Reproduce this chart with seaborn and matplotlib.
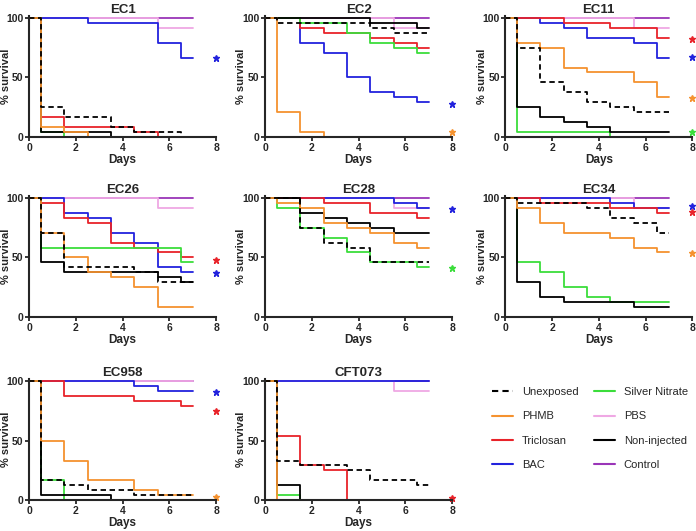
import matplotlib
matplotlib.use('Agg')
import matplotlib.pyplot as plt
from matplotlib.lines import Line2D
import seaborn as sns
import pandas as pd

sns.set_style('ticks')
plt.rcParams['font.family'] = ['Liberation Sans', 'DejaVu Sans']

# step start days; each survival list holds the value for the step beginning at that day
days = [0, 0.5, 1.5, 2.5, 3.5, 4.5, 5.5, 6.5]
end_day = 7

series = ['Control', 'PBS', 'BAC', 'Triclosan', 'Silver Nitrate', 'Non-injected', 'PHMB', 'Unexposed']
colors = {'Unexposed': 'black', 'PHMB': '#F5922F', 'Triclosan': '#E8232A', 'BAC': '#2222DD',
          'Silver Nitrate': '#3BDD3B', 'PBS': '#EFA8E4', 'Non-injected': 'black', 'Control': '#9A35B8'}

ec1 = {
    'Control':        [100, 100, 100, 100, 100, 100, 100, 100],
    'PBS':            [100, 100, 100, 100, 100, 100, 91.7, 91.7],
    'BAC':            [100, 100, 100, 95.8, 95.8, 95.8, 79.2, 66.7],
    'Triclosan':      [100, 16.7, 8.3, 8.3, 8.3, 4.2, 0, 0],
    'Silver Nitrate': [100, 4.2, 0, 0, 0, 0, 0, 0],
    'Non-injected':   [100, 4.2, 4.2, 4.2, 0, 0, 0, 0],
    'PHMB':           [100, 8.3, 4.2, 0, 0, 0, 0, 0],
    'Unexposed':      [100, 25, 16.7, 16.7, 8.3, 4.2, 4.2, 0],
}
ec2 = {
    'Control':        [100, 100, 100, 100, 100, 100, 100, 100],
    'PBS':            [100, 100, 100, 100, 100, 100, 91.7, 91.7],
    'BAC':            [100, 100, 79.2, 70.8, 50, 37.5, 33.3, 29.2],
    'Triclosan':      [100, 100, 91.7, 87.5, 87.5, 83.3, 79.2, 75],
    'Silver Nitrate': [100, 100, 95.8, 95.8, 87.5, 79.2, 75, 70.8],
    'Non-injected':   [100, 100, 100, 100, 100, 95.8, 95.8, 91.7],
    'PHMB':           [100, 20.8, 4.2, 0, 0, 0, 0, 0],
    'Unexposed':      [100, 95.8, 95.8, 95.8, 95.8, 91.7, 87.5, 87.5],
}
ec11 = {
    'Control':        [100, 100, 100, 100, 100, 100, 100, 100],
    'PBS':            [100, 100, 100, 100, 100, 100, 91.7, 91.7],
    'BAC':            [100, 100, 95.8, 91.7, 83.3, 83.3, 79.2, 66.7],
    'Triclosan':      [100, 100, 100, 95.8, 95.8, 91.7, 91.7, 83.3],
    'Silver Nitrate': [100, 4.2, 4.2, 4.2, 4.2, 0, 0, 0],
    'Non-injected':   [100, 25, 16.7, 12.5, 8.3, 4.2, 4.2, 4.2],
    'PHMB':           [100, 79.2, 75, 58.3, 54.2, 54.2, 45.8, 33.3],
    'Unexposed':      [100, 75, 45.8, 37.5, 29.2, 25, 20.8, 20.8],
}
ec26 = {
    'Control':        [100, 100, 100, 100, 100, 100, 100, 100],
    'PBS':            [100, 100, 100, 100, 100, 100, 91.7, 91.7],
    'BAC':            [100, 100, 87.5, 83.3, 70.8, 62.5, 41.7, 37.5],
    'Triclosan':      [100, 95.8, 83.3, 79.2, 62.5, 58.3, 54.2, 50],
    'Silver Nitrate': [100, 58.3, 58.3, 58.3, 58.3, 58.3, 58.3, 45.8],
    'Non-injected':   [100, 45.8, 37.5, 37.5, 37.5, 37.5, 33.3, 29.2],
    'PHMB':           [100, 70.8, 50, 37.5, 33.3, 25, 8.3, 8.3],
    'Unexposed':      [100, 70.8, 41.7, 41.7, 41.7, 37.5, 29.2, 29.2],
}
ec28 = {
    'Control':        [100, 100, 100, 100, 100, 100, 100, 100],
    'PBS':            [100, 100, 100, 100, 100, 100, 91.7, 91.7],
    'BAC':            [100, 100, 100, 100, 100, 100, 95.8, 91.7],
    'Triclosan':      [100, 100, 100, 95.8, 95.8, 87.5, 87.5, 83.3],
    'Silver Nitrate': [100, 91.7, 75, 66.7, 54.2, 45.8, 45.8, 41.7],
    'Non-injected':   [100, 100, 87.5, 83.3, 79.2, 75, 70.8, 70.8],
    'PHMB':           [100, 95.8, 91.7, 79.2, 75, 70.8, 62.5, 58.3],
    'Unexposed':      [100, 100, 75, 62.5, 58.3, 45.8, 45.8, 45.8],
}
ec34 = {
    'Control':        [100, 100, 100, 100, 100, 100, 100, 100],
    'PBS':            [100, 100, 100, 100, 100, 100, 91.7, 91.7],
    'BAC':            [100, 100, 100, 100, 100, 95.8, 91.7, 91.7],
    'Triclosan':      [100, 100, 95.8, 95.8, 95.8, 91.7, 91.7, 87.5],
    'Silver Nitrate': [100, 45.8, 37.5, 25, 16.7, 12.5, 12.5, 12.5],
    'Non-injected':   [100, 29.2, 16.7, 12.5, 12.5, 12.5, 8.3, 8.3],
    'PHMB':           [100, 91.7, 79.2, 70.8, 70.8, 66.7, 58.3, 54.2],
    'Unexposed':      [100, 95.8, 95.8, 95.8, 91.7, 83.3, 79.2, 70.8],
}
ec958 = {
    'Control':        [100, 100, 100, 100, 100, 100, 100, 100],
    'PBS':            [100, 100, 100, 100, 100, 100, 100, 100],
    'BAC':            [100, 100, 100, 100, 100, 95.8, 91.7, 91.7],
    'Triclosan':      [100, 100, 87.5, 87.5, 87.5, 83.3, 83.3, 79.2],
    'Silver Nitrate': [100, 16.7, 0, 0, 0, 0, 0, 0],
    'Non-injected':   [100, 4.2, 4.2, 4.2, 0, 0, 0, 0],
    'PHMB':           [100, 50, 33.3, 16.7, 16.7, 8.3, 4.2, 4.2],
    'Unexposed':      [100, 16.7, 12.5, 8.3, 8.3, 4.2, 4.2, 4.2],
}
cft073 = {
    'Control':        [100, 100, 100, 100, 100, 100, 100, 100],
    'PBS':            [100, 100, 100, 100, 100, 100, 91.7, 91.7],
    'BAC':            [100, 100, 100, 100, 100, 100, 100, 100],
    'Triclosan':      [100, 54.2, 29.2, 25, 0, 0, 0, 0],
    'Silver Nitrate': [100, 4.2, 0, 0, 0, 0, 0, 0],
    'Non-injected':   [100, 12.5, 0, 0, 0, 0, 0, 0],
    'PHMB':           [100, 0, 0, 0, 0, 0, 0, 0],
    'Unexposed':      [100, 33.3, 29.2, 29.2, 25, 16.7, 16.7, 12.5],
}

panels = ['EC1', 'EC2', 'EC11', 'EC26', 'EC28', 'EC34', 'EC958', 'CFT073']
panel_data = [ec1, ec2, ec11, ec26, ec28, ec34, ec958, cft073]

# significance stars plotted at day 8: (series, y)
stars = {
    'EC1': [('BAC', 66)],
    'EC2': [('BAC', 28), ('PHMB', 4)],
    'EC11': [('Triclosan', 82), ('BAC', 67), ('PHMB', 33), ('Silver Nitrate', 4)],
    'EC26': [('Triclosan', 48), ('BAC', 37)],
    'EC28': [('BAC', 91), ('Silver Nitrate', 41)],
    'EC34': [('BAC', 93), ('Triclosan', 88), ('PHMB', 54)],
    'EC958': [('BAC', 91), ('Triclosan', 75), ('PHMB', 3)],
    'CFT073': [('Triclosan', 2)],
}

rows = []
for name, d in zip(panels, panel_data):
    for s in series:
        vals = d[s] + [d[s][-1]]
        for x, y in zip(days + [end_day], vals):
            rows.append({'panel': name, 'series': s, 'day': x, 'survival': y})
df = pd.DataFrame(rows)

dashes = {s: '' for s in series}
dashes['Unexposed'] = (3, 2)

fig = plt.figure(figsize=(6.96, 5.31), dpi=100)
lefts = [0.042, 0.381, 0.726]
bottoms = [0.742, 0.403, 0.058]
W, H = 0.2687, 0.2287

for i, name in enumerate(panels):
    ax = fig.add_axes([lefts[i % 3], bottoms[i // 3], W, H])
    sub = df[df['panel'] == name]
    sns.lineplot(data=sub, x='day', y='survival', hue='series', style='series',
                 hue_order=series, style_order=series, palette=colors, dashes=dashes,
                 estimator=None, sort=False, drawstyle='steps-post', linewidth=1.3,
                 legend=False, ax=ax, clip_on=False)
    for s, y in stars[name]:
        ax.plot(8, y, marker='*', color=colors[s], markersize=4.5, clip_on=False, linestyle='none')
    ax.set_xlim(0, 8)
    ax.set_ylim(0, 102)
    ax.set_xticks([0, 2, 4, 6, 8])
    ax.set_yticks([0, 50, 100])
    ax.set_title(name, fontsize=9.5, fontweight='bold', pad=2)
    ax.set_xlabel('Days', fontsize=8.5, fontweight='bold', labelpad=1)
    ax.set_ylabel('% survival', fontsize=8, fontweight='bold')
    ax.yaxis.set_label_coords(-0.1, 0.5)
    sns.despine(ax=ax)
    for sp in ['left', 'bottom']:
        ax.spines[sp].set_linewidth(1.5)
    ax.tick_params(axis='both', labelsize=7.5, width=1.3, length=3, pad=1)
    for lab in ax.get_xticklabels() + ax.get_yticklabels():
        lab.set_fontweight('bold')

legend_order = ['Unexposed', 'PHMB', 'Triclosan', 'BAC', 'Silver Nitrate', 'PBS', 'Non-injected', 'Control']
handles = [Line2D([0], [0], color=colors[s], linewidth=1.5,
                  linestyle=(0, (3, 2)) if s == 'Unexposed' else '-') for s in legend_order]
fig.legend(handles, legend_order, ncol=2, loc='upper left', bbox_to_anchor=(0.692, 0.29),
           frameon=False, fontsize=8, handlelength=1.9, labelspacing=1.3, columnspacing=1.4)

fig.savefig('out.png', dpi=100)
